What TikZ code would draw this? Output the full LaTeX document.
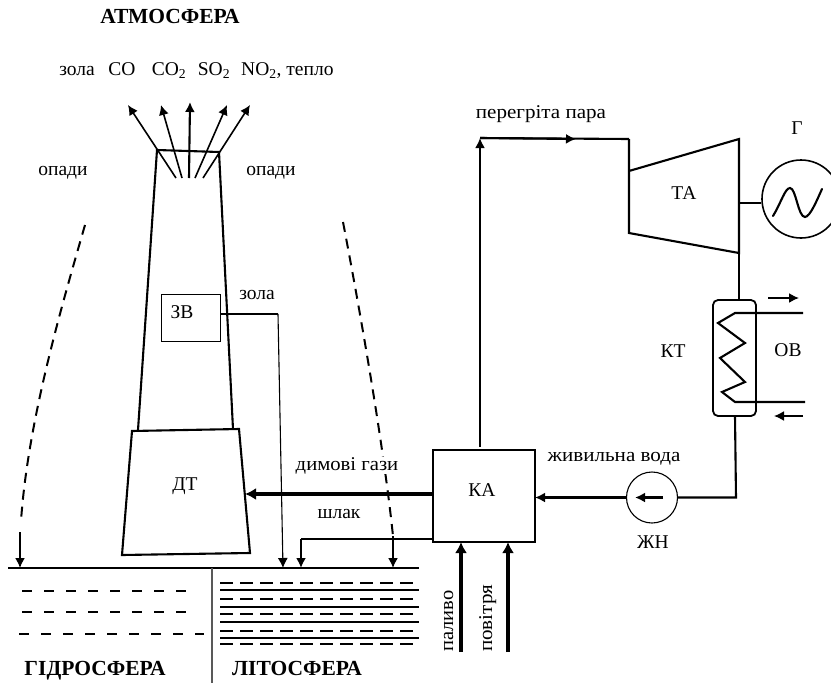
\documentclass[tikz,border=0pt]{standalone}
\usepackage{fontspec}
\usepackage{graphicx}
\setmainfont{Liberation Serif}
\usetikzlibrary{arrows.meta}
\tikzset{
  px/.style={x=1pt,y=-1pt},
  lbl/.style={font=\fontsize{19.5}{22}\selectfont,inner sep=0pt,anchor=base},
  big/.style={font=\fontsize{21.5}{24}\selectfont\bfseries,inner sep=0pt,anchor=base},
  thin line/.style={line width=1.6pt},
  mid line/.style={line width=2.1pt},
  thick line/.style={line width=3.6pt},
  tip/.style={-{Latex[length=10pt,width=10pt]}},
  tipb/.style={-{Latex[length=11pt,width=12pt]}},
  dashline/.style={line width=2pt,dash pattern=on 10pt off 7pt},
}
\begin{document}
\begin{tikzpicture}[px]
\useasboundingbox (0,0) rectangle (831,683);
\clip (0,0) rectangle (831,683);
% chimney
\coordinate (tl) at (157,150);
\coordinate (tr) at (219,152);
\draw[mid line,line join=miter] (138,430) -- (tl) -- (tr) -- (233,429);
\draw[mid line] (132,431) -- (239,429) -- (250,553) -- (122,555) -- cycle;
% plume
\coordinate (p1) at (176,178); \coordinate (p2) at (182,178); \coordinate (p3) at (189,178); \coordinate (p4) at (195,178); \coordinate (p5) at (203,178);
\coordinate (a1) at (128,105); \coordinate (a2) at (161,105); \coordinate (a3) at (190,102); \coordinate (a4) at (227,105); \coordinate (a5) at (250,105);
\draw[thin line,tip] (p1) -- (a1);
\draw[thin line,tip] (p2) -- (a2);
\draw[mid line,tip] (p3) -- (a3);
\draw[thin line,tip] (p4) -- (a4);
\draw[thin line,tip] (p5) -- (a5);
% ZV
\node[draw,line width=0.9pt,minimum width=59pt,minimum height=47pt,inner sep=0pt] (zv) at (190.5,317.5) {};
\coordinate (zv1) at (278,314);
\coordinate (g1) at (283,568);
\draw[line width=1.1pt] (zv.east |- zv1) -- (zv1);
\draw[line width=1.1pt,tip] (zv1) -- (g1);
% dashed
\coordinate (d1) at (85,225); \coordinate (d2) at (21,521); \coordinate (d4) at (20,532); \coordinate (d3) at (20,568);
\draw[dashline] (d1) .. controls (62,305) and (28,420) .. (d2);
\draw[thin line,tip] (d4) -- (d3);
\coordinate (e1) at (343,222); \coordinate (e2) at (393,536); \coordinate (e3) at (393,568);
\draw[dashline] (e1) .. controls (358,300) and (383,440) .. (e2);
\draw[thin line,tip] (e2) -- (e3);
% ground
\coordinate (gl) at (8,568); \coordinate (gr) at (419,568); \coordinate (gm) at (212,568); \coordinate (gb) at (212,683);
\draw[line width=1.2pt] (gl) -- (gr);
\draw[line width=1.3pt,color=black!65] (gm) -- (gb);
% hydro
\foreach \y/\xa/\xb in {591/22/188, 612/22/196, 634/19/204}
  \draw[line width=1.1pt,dash pattern=on 10pt off 12pt] (\xa,\y) -- (\xb,\y);
% litho
\foreach \y in {583,599,614,631,644}
  \draw[line width=1.2pt,dash pattern=on 13pt off 7pt] (220,\y) -- (419,\y);
\foreach \y in {590,607,622,638}
  \draw[line width=1.7pt] (220,\y) -- (419,\y);
% KA
\node[draw,line width=2.2pt,minimum width=102pt,minimum height=92pt,inner sep=0pt] (ka) at (484,496) {};
\coordinate (dg) at (245,494);
\draw[thick line,tipb] (ka.west |- dg) -- (dg);
\coordinate (s0) at (433,539); \coordinate (s1) at (301,539); \coordinate (s2) at (301,568);
\draw[mid line] (s0) -- (s1);
\draw[mid line,tip] (s1) -- (s2);
% fuel, air
\coordinate (f0) at (461,652); \coordinate (f1) at (461,542);
\coordinate (v0) at (508,652); \coordinate (v1) at (508,542);
\draw[thick line,tipb] (f0) -- (f1);
\draw[thick line,tipb] (v0) -- (v1);
% steam
\coordinate (c1) at (480,447); \coordinate (c2) at (480,138); \coordinate (c3) at (629,139);
\draw[mid line,tip] (c1) -- (c2);
\draw[mid line] (c2) -- (c3);
\draw[mid line,tip] (c2) -- (576,139);
% turbine
\coordinate (t1) at (629,139); \coordinate (t2) at (629,171); \coordinate (t3) at (739,139); \coordinate (t4) at (739,253); \coordinate (t5) at (629,233);
\draw[mid line] (t1) -- (t5) -- (t4) -- (t3) -- (t2);
% generator
\node[draw,circle,line width=1.6pt,minimum size=78pt,inner sep=0pt] (gen) at (801,199) {};
\draw[mid line] (739,203) -- (gen.west |- 0,203);
\draw[mid line,line cap=round] (773,216) .. controls (781,203) and (785,188) .. (790,188) .. controls (796,188) and (798,217) .. (805,217) .. controls (810,217) and (817,200) .. (822,189);
% condenser
\node[draw,rounded corners=5pt,line width=1.8pt,minimum width=43pt,minimum height=116pt,inner sep=0pt] (kt) at (734.5,358) {};
\draw[mid line] (739,253) -- (739,300);
\draw[mid line,line join=miter] (803,313) -- (735,313) -- (718,323) -- (745,343) -- (720,358) -- (745,382) -- (722,392) -- (735,402) -- (805,402);
\coordinate (o1) at (768,298); \coordinate (o2) at (799,298);
\draw[thin line,tip] (o1) -- (o2);
\coordinate (o3) at (803,416); \coordinate (o4) at (774,416);
\draw[thin line,tip] (o3) -- (o4);
% pump
\node[draw,circle,line width=1.1pt,minimum size=51pt,inner sep=0pt] (zn) at (652,497.5) {};
\coordinate (b1) at (735,416); \coordinate (b2) at (736,497.5);
\draw[mid line] (b1) -- (b2) -- (zn.east);
\draw[mid line,tip] (zn.west) -- (535,497.5);
\draw[mid line,tip] (663,497.5) -- (635,497.5);
% labels
\node[big] (atm) at (170,23) {АТМОСФЕРА};
\node[lbl] (zola1) at (77,75) {зола};
\node[lbl] (co) at (122,75) {CO};
\node[lbl] (co2) at (169,75) {CO\textsubscript{2}};
\node[lbl] (so2) at (214,75) {SO\textsubscript{2}};
\node[lbl,anchor=base west] (no2) at (241,75) {NO\textsubscript{2}, тепло};
\node[lbl] (op1) at (63,175) {опади};
\node[lbl] (op2) at (271,175) {опади};
\node[lbl] (dt) at (185,490) {ДТ};
\node[lbl] (zvl) at (182,318) {ЗВ};
\node[lbl] (zola2) at (257,299) {зола};
\node[big] (gid) at (95,675) {ГІДРОСФЕРА};
\node[big] (lit) at (297,675) {ЛІТОСФЕРА};
\node[lbl] (kal) at (482,496) {КА};
\node[lbl,fill=white] (dym) at (347,470) {\scalebox{1.06}[1]{димові гази}};
\node[lbl] (shl) at (339,518) {шлак};
\node[lbl,rotate=90,anchor=base west] (pal) at (453,652) {\scalebox{1.05}[1]{паливо}};
\node[lbl,rotate=90,anchor=base west] (pov) at (492,652) {\scalebox{1.08}[1]{повітря}};
\node[lbl] (per) at (541,118) {\scalebox{1.08}[1]{перегріта пара}};
\node[lbl] (ta) at (684,199) {ТА};
\node[lbl] (gg) at (797,134) {Г};
\node[lbl] (ktl) at (673,357) {КТ};
\node[lbl] (ov) at (788,356) {ОВ};
\node[lbl] (zh) at (653,548) {ЖН};
\node[lbl] (zhv) at (614,461) {\scalebox{1.08}[1]{живильна вода}};
\end{tikzpicture}
\end{document}
